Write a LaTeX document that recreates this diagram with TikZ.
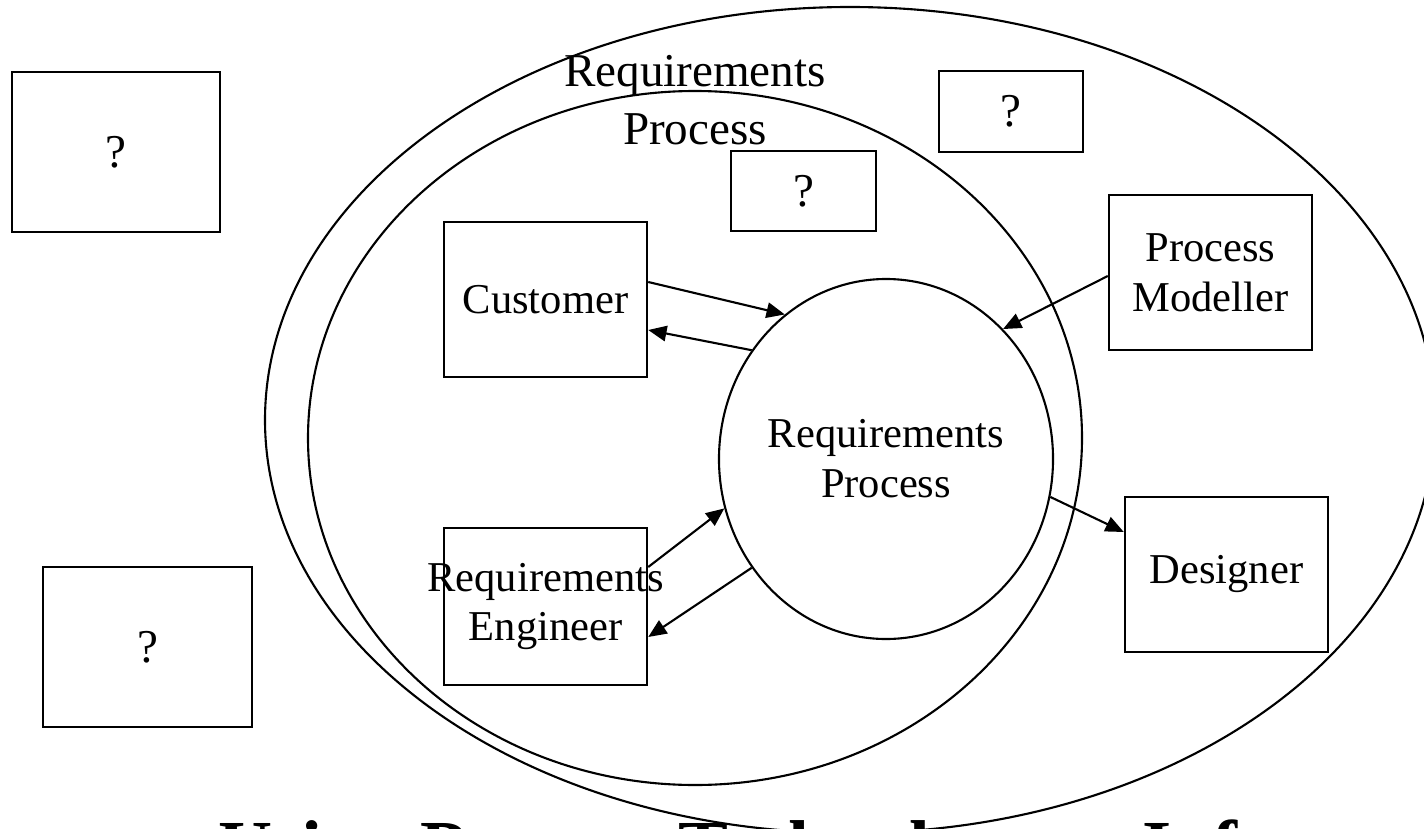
\documentclass[tikz,border=0pt]{standalone}
\usepackage{fontspec}
\setmainfont{Liberation Serif}
\usepackage{tikz}
\pgfdeclarelayer{nodelayer}
\pgfdeclarelayer{edgelayer}
\pgfsetlayers{edgelayer,nodelayer,main}
\usetikzlibrary{arrows.meta,shapes.geometric}
\tikzset{
	actor/.style={draw, rectangle, line width=0.7pt, minimum width=2.03cm, minimum height=1.55cm, inner sep=0pt, align=center, font=\fontsize{12.1}{14.2}\selectfont},
	unknown/.style={draw, rectangle, line width=0.7pt, inner sep=0pt, font=\fontsize{13.4}{16}\selectfont},
	process/.style={draw, ellipse, line width=0.6pt, inner sep=0pt, minimum width=3.3cm, minimum height=3.6cm, align=center, font=\fontsize{12.1}{14.2}\selectfont},
	boundary/.style={draw, ellipse, line width=0.6pt, inner sep=0pt},
	flow/.style={-{Triangle[length=5.2pt,width=4.4pt]}, line width=0.6pt},
	title/.style={font=\fontsize{21.3}{25}\selectfont\bfseries, inner sep=0pt, anchor=base west}
}

\begin{document}
\begin{tikzpicture}
	\useasboundingbox (0, 0) rectangle (14.24, 8.28);
	\begin{pgfonlayer}{nodelayer}
		\node [boundary, minimum width=11.70cm, minimum height=8.26cm] (0) at (8.50, 4.08) {};
		\node [boundary, minimum width=7.74cm, minimum height=6.94cm] (1) at (6.95, 3.90) {};
		\node [align=center, font=\fontsize{13.4}{16.5}\selectfont] (2) at (6.95, 7.28) {Requirements\\Process};
		\node [unknown, minimum width=2.08cm, minimum height=1.60cm] (3) at (1.16, 6.76) {?};
		\node [unknown, minimum width=2.09cm, minimum height=1.60cm] (4) at (1.475, 1.81) {?};
		\node [unknown, minimum width=1.45cm, minimum height=0.80cm] (5) at (8.035, 6.37) {?};
		\node [unknown, minimum width=1.44cm, minimum height=0.81cm] (6) at (10.11, 7.165) {?};
		\node [actor] (7) at (5.455, 5.285) {Customer};
		\node [actor] (8) at (12.105, 5.555) {Process\\Modeller};
		\node [actor] (9) at (12.265, 2.535) {Designer};
		\node [actor, minimum height=1.57cm] (10) at (5.455, 2.215) {\makebox[0pt]{Requirements}\\Engineer};
		\node [process] (11) at (8.86, 3.69) {Requirements\\Process};
	\end{pgfonlayer}
	\begin{pgfonlayer}{edgelayer}
		\draw [flow] ([yshift=0.175cm]7.east) to (11.125.4);
		\draw [flow] (11.141.4) to ([yshift=-0.305cm]7.east);
		\draw [flow] ([yshift=-0.035cm]8.west) to (11.48.5);
		\draw [flow] (11.-13) to ([yshift=0.425cm]9.west);
		\draw [flow] ([yshift=0.395cm]10.east) to (11.197.9);
		\draw [flow] (11.219.7) to ([yshift=-0.305cm]10.east);
	\end{pgfonlayer}
	% title runs off the bottom of the slide
	\begin{scope}
		\clip (0, 0) rectangle (14.24, 8.28);
		\node [title] (12) at (2.18, -0.44) {Using Process Technology to Info};
	\end{scope}
\end{tikzpicture}
\end{document}
